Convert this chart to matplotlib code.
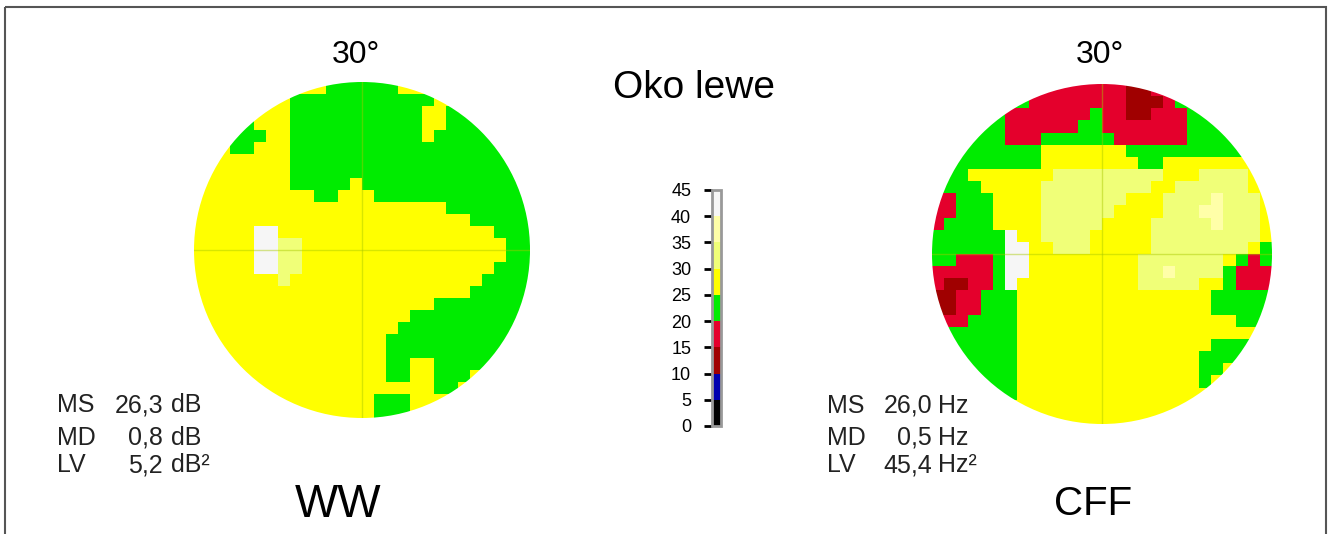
import numpy as np
import matplotlib as mpl
import matplotlib.pyplot as plt
from matplotlib.colors import ListedColormap, BoundaryNorm
from matplotlib.patches import Circle, Rectangle

plt.rcParams['font.family'] = ['Liberation Sans', 'DejaVu Sans']

# skala czułości (dB / Hz) i kolory przedziałów
levels = [0, 5, 10, 15, 20, 25, 30, 35, 40, 45]
colors = ['#000000', '#0000b0', '#a00000', '#e4002c', '#00ec00',
          '#ffff00', '#f0ff78', '#ffffa8', '#f6f6f6']

# wartość przypisana literze na mapie
codes = {'D': 12, 'R': 17, 'G': 22, 'Y': 27, 'L': 32, 'P': 37, 'W': 43}

# mapa WW (28 x 28, wiersze od góry)
ww_rows = [
    "YYYYYYYYYYYGGGGGGYYYYYYYYYYY",
    "YYYYYYYYGGGGGGGGGGGGYYYYYYYY",
    "YYYYYYYYGGGGGGGGGGGYYGGGGGGG",
    "YYYYGYYYGGGGGGGGGGGYYGGGGGGG",
    "YYYGGGYYGGGGGGGGGGGYGGGGGGGG",
    "YYYGGYYYGGGGGGGGGGGGGGGGGGGG",
    "YYYYYYYYGGGGGGGGGGGGGGGGGGGG",
    "YYYYYYYYGGGGGGGGGGGGGGGGGGGG",
    "YYYYYYYYGGGGGYGGGGGGGGGGGGGG",
    "YYYYYYYYYYGGYYYGGGGGGGGGGGGG",
    "YYYYYYYYYYYYYYYYYYYYYGGGGGGG",
    "YYYYYYYYYYYYYYYYYYYYYYYGGGGG",
    "YYYYYWWYYYYYYYYYYYYYYYYYYGGG",
    "YYYYYWWLLYYYYYYYYYYYYYYYYYGG",
    "YYYYYWWLLYYYYYYYYYYYYYYYYYGG",
    "YYYYYWWLLYYYYYYYYYYYYYYYYGGG",
    "YYYYYYYLYYYYYYYYYYYYYYYYGGGG",
    "YYYYYYYYYYYYYYYYYYYYYYYGGGGG",
    "YYYYYYYYYYYYYYYYYYYYGGGGGGGG",
    "YYYYYYYYYYYYYYYYYYGGGGGGGGGG",
    "YYYYYYYYYYYYYYYYYGGGGGGGGGGG",
    "YYYYYYYYYYYYYYYYGGGGGGGGGGGG",
    "YYYYYYYYYYYYYYYYGGGGGGGGGGGG",
    "YYYYYYYYYYYYYYYYGGYYGGGGGGGG",
    "YYYYYYYYYYYYYYYYGGYYGGGYYYYY",
    "YYYYYYYYYYYYYYYYYYYYGGYYYYYY",
    "YYYYYYYYYYYYYYYGGGYYYYYYYYYY",
    "YYYYYYYYYYYYYYYGGGYYYYYYYYYY",
]

# mapa CFF (28 x 28)
cff_rows = [
    "RRRRRRRRRRRRRRRRDDRRRRRRRRRR",
    "GGGGGGGGRRRRRRRRDDDRGGGGGGGG",
    "GGGGGGRRRRRRRGRRDDRRRGGGGGGG",
    "GGGGGGRRRRRRGGRRRRRRRGGGGGGG",
    "GGGGGGRRRGGGGGGRRRRRRGGGGGGG",
    "GGGGGGGGGYYYYYYYGGGGGGGGGGGG",
    "GGGGGGGGGYYYYYYYYGGYYYYYYYYY",
    "GGGYYYYYYYLLLLLLLLLYYYLLLLYY",
    "GGGGYYYYYLLLLLLLLLYYLLLLLLYY",
    "RRGGGYYYYLLLLLLLYYYLLLLPLLLY",
    "RRGGGYYYYLLLLLLYYYYLLLPPLLLY",
    "RGGGGYYYYLLLLLYYYYLLLLLPLLLY",
    "GGGGGGWYYLLLLYYYYYLLLLLLLLLY",
    "GGGGGGWWYYLLLYYYYYLLLLLLLLYG",
    "GGRRRGWWYYYYYYYYYLLLLLLLYGRG",
    "RRRRRGWWYYYYYYYYYLLPLLLLGRRR",
    "RDDRRGWYYYYYYYYYYLLLLLYYGRRR",
    "DDRRGGGYYYYYYYYYYYYYYYYGGGGG",
    "DDRRGGGYYYYYYYYYYYYYYYYGGGGG",
    "RRRGGGGYYYYYYYYYYYYYYYYYYGGG",
    "GGGGGGGYYYYYYYYYYYYYYYYYYYYY",
    "GGGGGGGYYYYYYYYYYYYYYYYGGGGG",
    "GGGGGGGYYYYYYYYYYYYYYYGGGGGG",
    "GGGGGGGYYYYYYYYYYYYYYYGGYYYY",
    "GGGGGGGYYYYYYYYYYYYYYYGYYYYY",
    "GGGGGGGYYYYYYYYYYYYYYYYYYYYY",
    "YYYYYYYYYYYYYYYYYYYYYYYYYYYY",
    "YYYYYYYYYYYYYYYYYYYYYYYYYYYY",
]

ww_stats = [('MS', '26,3', 'dB'), ('MD', '0,8', 'dB'), ('LV', '5,2', 'dB²')]
cff_stats = [('MS', '26,0', 'Hz'), ('MD', '0,5', 'Hz'), ('LV', '45,4', 'Hz²')]

cmap = ListedColormap(colors)
norm = BoundaryNorm(levels, cmap.N)

fig = plt.figure(figsize=(13.31, 5.34), dpi=100)
ax = fig.add_axes([0, 0, 1, 1])


def draw_map(rows, cx, cy, r):
    grid = np.array([[codes[c] for c in row] for row in rows], dtype=float)
    im = ax.imshow(grid, cmap=cmap, norm=norm, interpolation='nearest',
                   extent=(cx - r, cx + r, cy + r, cy - r), aspect='auto', zorder=2)
    im.set_clip_path(Circle((cx, cy), r, transform=ax.transData))
    # krzyż osi pola widzenia
    for xs, ys in [([cx, cx], [cy - r, cy + r]), ([cx - r, cx + r], [cy, cy])]:
        ln, = ax.plot(xs, ys, color='#a8c800', lw=1, alpha=0.45, zorder=3)
        ln.set_clip_path(Circle((cx, cy), r, transform=ax.transData))


def draw_stats(stats, x_lab, x_val, x_unit, ys):
    for (lab, val, unit), y in zip(stats, ys):
        ax.text(x_lab, y, lab, fontsize=18, color='#222222', va='baseline', ha='left')
        ax.text(x_val, y, val, fontsize=18, color='#222222', va='baseline', ha='right')
        ax.text(x_unit, y, unit, fontsize=18, color='#222222', va='baseline', ha='left')


draw_map(ww_rows, 362, 250, 168)
draw_map(cff_rows, 1102, 254, 170)

ax.text(356, 63, '30°', fontsize=23, ha='center', va='baseline')
ax.text(1100, 63, '30°', fontsize=23, ha='center', va='baseline')
ax.text(694, 98, 'Oko lewe', fontsize=28, ha='center', va='baseline')
ax.text(338, 517, 'WW', fontsize=33, ha='center', va='baseline')
ax.text(1093, 515, 'CFF', fontsize=29, ha='center', va='baseline')

draw_stats(ww_stats, 57, 163, 171, [412, 445, 472])
draw_stats(cff_stats, 827, 932, 938, [413, 445, 472])

# ramka
ax.add_patch(Rectangle((5, 7), 1321, 540, fill=False, edgecolor='#555555', lw=1.5, zorder=5))

ax.set_xlim(0, 1331)
ax.set_ylim(534, 0)
ax.axis('off')

# skala kolorów
cax = fig.add_axes([712 / 1331, (534 - 426) / 534, 9 / 1331, 236 / 534])
cb = fig.colorbar(mpl.cm.ScalarMappable(norm=norm, cmap=cmap), cax=cax, ticks=levels)
cax.yaxis.set_ticks_position('left')
cax.tick_params(labelsize=13, length=6, width=2, pad=9)
cb.outline.set_edgecolor('#999999')
cb.outline.set_linewidth(2)

fig.savefig('out.png', dpi=100)
